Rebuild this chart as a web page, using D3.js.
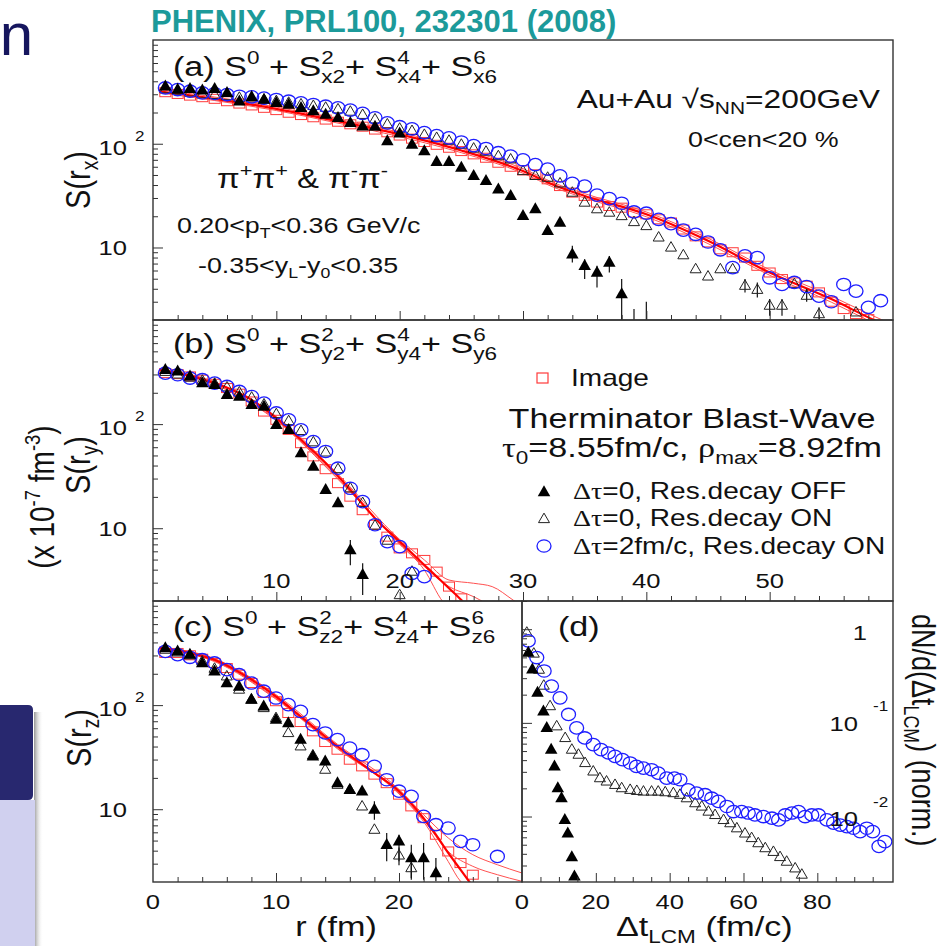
<!DOCTYPE html>
<html>
<head>
<meta charset="utf-8">
<script src="https://cdn.jsdelivr.net/npm/d3@7"></script>
<style>
  body { margin: 0; background: #fff; }
  svg { display: block; }
  text { font-family: "Liberation Sans", Arial, sans-serif; }
</style>
</head>
<body>
<div id="chart"></div>
<script>
// ---- data: [r (fm), S] or [dt (fm/c), dN/d(dt)] ----

// (a) S(r_x)
const circA = [[1,345],[2,333],[3,321],[4,309],[5,305],[6,298],[7,287],[8,283],[9,275],[10,267],[11,257],[12,248],[13,239],[14,230],[15,222],[16,211],[17,196],[18,178],[19,159],[20,146],[21,139],[22,128],[23,120],[24,114],[25,104],[26,96],[27,90],[28,82],[29,76],[30,70],[31,63],[32,57],[33,49],[34,41.5],[35,39],[36,32],[37,29.6],[38,26.7],[39,22],[40,21.4],[41,18.7],[42,17],[43,14.7],[44,13.4],[45,11.3],[46,9.5],[47,6.4],[48,8.3],[49,8.0],[50,5.1],[51,4.4],[52,4.6],[53,4.2],[54,3.4],[55,3.0],[56,4.4],[57,3.8],[58,2.65],[59,3.07]];
const sqA = [[1,314],[2,302],[3,291],[4,281],[5,271],[6,257],[7,244],[8,234],[9,222],[10,211],[11,199],[12,189],[13,180],[14,171],[15,163],[16,154],[17,146],[18,137],[19,129],[20,120],[21,112],[22,104],[23,97.7],[24,91.5],[25,85],[26,79],[27,73.3],[28,65.6],[29,60],[30,55.4],[31,50.7],[32,45.4],[33,39.1],[34,33.8],[35,31.4],[36,27.1],[37,25.1],[38,24.2],[39,21.7],[40,20.9],[41,18.7],[42,17.4],[43,14.9],[44,12.8],[45,11.2],[46,9.6],[47,9.0],[48,8.0],[49,6.66],[50,5.74],[51,4.96],[52,4.6],[53,4.28],[54,3.69],[55,3.0],[56,2.55],[57,2.28],[58,2.04]];
const openA = [[1,335],[2,325],[3,312],[4,300],[5,296],[6,288],[7,278],[8,274],[9,266],[10,258],[11,249],[12,240],[13,232],[14,223],[15,215],[16,204],[17,190],[18,172],[19,154],[20,140],[21,133],[22,122],[23,114],[24,107],[25,98],[26,90],[27,84],[28,76],[29,70.7],[30,54.6],[31,49],[32,47.1],[33,41.5],[34,33.8],[35,27.1],[36,23.4],[37,21.7],[38,20.1],[39,17.6],[40,16.1],[41,12.5],[42,10],[43,8.43],[44,6.18],[45,5.26],[46,6.18],[47,6.18],[48,4.28],[49,3.91],[50,2.75],[51,2.75],[52,4.44],[53,3.43],[54,2.28],[57,2.37]];
const errOpenA = [[48,4.96,3.69],[49,4.6,3.3],[50,3.18,2.2],[51,3.18,2.2],[53,4.0,3.0],[54,2.65,2.0]];
const fillA = [[1,358],[2,333],[3,338],[4,328],[5,338],[6,309],[7,257],[8,283],[9,267],[10,248],[11,239],[12,222],[13,206],[14,191],[15,178],[16,159],[17,147],[18,146],[19,106],[20,126],[21,98],[22,85],[23,67],[24,67],[25,59],[26,49],[27,43.8],[28,36.4],[29,31.4],[30,20.2],[31,23.4],[32,14.5],[33,17.4],[34,8.6],[35,6.65],[36,5.74],[37,7.16],[38,3.56]];
const errFillA = [[34,10.4,7.17],[35,7.7,4.96],[36,6.66,4.12],[37,8.3,5.74],[38,4.96,1.5],[39,2.55,1.5],[40,3.0,1.5]];
const modelA = [[0.5,321],[5,271],[10,217],[15,165],[20,123],[25,86.2],[30,54.6],[32.5,40],[35,31.4],[40,20.9],[45,11.6],[50,5.74],[55,3.18],[58,2.12],[60,1.64]];
const bandA = [
  [[0.5,333],[5,282],[10,226],[15,172],[20,129],[25,90.5],[30,57.5],[32.5,42],[35,33],[40,22],[45,12.3],[50,6.1],[55,3.4],[58,2.3],[60,1.8]],
  [[0.5,310],[5,261],[10,209],[15,158],[20,117],[25,82],[30,52],[32.5,38],[35,30],[40,19.8],[45,10.9],[50,5.4],[55,2.97],[58,1.98],[60,1.5]]
];

// (b) S(r_y)
const circB = [[1,309],[2,298],[3,277],[4,267],[5,248],[6,230],[7,206],[8,184],[9,159],[10,128],[11,110],[12,88],[13,68],[14,54.6],[15,37.7],[16,24.2],[17,18.0],[18,10.8],[19,7.44],[20,6.66],[21,3.69],[22,3.43]];
const openB = [[1,318],[2,300],[3,280],[4,262],[5,245],[6,226],[7,202],[8,180],[9,155],[10,125],[11,107],[12,86],[13,67],[14,53.5],[15,37],[16,24.2],[17,17.5],[18,10.6],[19,7.6],[20,2.28],[21,3.83]];
const fillB = [[1,333],[2,321],[3,287],[4,248],[5,239],[6,191],[7,184],[8,153],[9,147],[10,98.5],[11,88],[12,52.6],[13,39.1],[14,23.4],[15,17.4],[16,6.18],[17,3.56]];
const errFillB = [[16,7.7,4.4],[17,4.6,2.28]];
const sqB = [[1,309],[2,302],[3,287],[4,267],[5,244],[6,222],[7,196],[8,165],[9,132],[10,110],[11,88],[12,65.6],[13,49],[14,36.9],[15,27.1],[16,20.1],[17,14.9],[18,10.8],[19,8.3],[20,6.4],[21,5.74],[22,4.96],[23,3.83],[24,2.75],[25,2.12]];
const modelB = [[0.5,333],[3,291],[5,248],[8,171],[10,114],[12,70.7],[14,42],[16,23.4],[18,12.5],[20,7.44],[22,4.44],[23,3.43],[24,2.65],[25,2.04],[25.5,1.76]];
const bandB = [
  [[0.5,338],[5,255],[10,118],[15,33],[20,7.8],[22,4.96],[24,3.18],[26,2.96],[27.5,2.75],[29.2,2.04],[30,1.76]],
  [[0.5,328],[5,242],[10,110],[15,30],[20,7.1],[22,4.28],[24,2.75],[26,2.2],[27,1.9]],
  [[0.5,325],[5,240],[10,108],[15,29.5],[20,7.0],[22,3.97],[23.5,1.97],[24,1.7]]
];

// (c) S(r_z)
const circC = [[1,328],[2,305],[3,288],[4,273],[5,254],[6,219],[7,196],[8,163],[9,136],[10,117],[11,101],[12,87],[13,64.9],[14,54],[15,46.6],[16,38.7],[17,33.4],[18,25.8],[19,19.2],[20,14.9],[21,13.3],[22,8.54],[23,7.1],[24,6.6],[25,4.91],[26,4.56],[28,3.52]];
const fillC = [[1,354],[2,328],[3,305],[4,254],[5,211],[6,163],[7,151],[8,113],[9,97.3],[10,72.5],[11,67.3],[12,46.6],[13,32.2],[14,28.8],[15,17.8],[16,15.4],[17,14.9],[18,9.9],[19,4.56],[20,4.91],[21,3.4],[22,3.4],[23,2.44]];
const errFillC = [[18,11.9,7.93],[19,5.9,3.16],[20,5.7,3.16],[21,4.56,2.18],[22,4.73,2.1],[23,3.4,2.03]];
const openC = [[1,341],[2,321],[3,301],[4,263],[5,224],[6,189],[7,141],[8,113],[9,93.8],[10,75.2],[11,54],[12,40.2],[13,32.9],[14,24],[15,17.2],[16,15.4],[17,10.65],[18,6.36],[20,3.6],[21,2.72]];
const errOpenC = [[20,4.3,2.9],[21,3.2,2.1]];
const sqC = [[1,317],[2,317],[3,301],[4,279],[5,254],[6,227],[7,196],[8,163],[9,131],[10,109],[11,84],[12,68.8],[13,56],[14,44.2],[15,37.3],[16,29.9],[17,25.8],[18,21.5],[19,17.8],[20,13.8],[21,10.65],[22,8.2],[23,5.69],[24,3.93],[25,3.04],[26,2.35]];
const modelC = [[0.5,354],[3,317],[5,273],[8,176],[10,121],[12,78],[15,40.2],[18,22.3],[20,14.9],[22,8.2],[23,5.69],[24,3.8],[25,2.63],[25.8,1.95]];
const bandC = [
  [[0.5,360],[5,280],[10,126],[15,42],[20,15.5],[22,8.86],[24,5.3],[26,3.66],[28,2.93],[30,2.44]],
  [[0.5,348],[5,266],[10,116],[15,38.5],[20,14.3],[22,7.9],[24,3.93],[26,2.83],[28,2.35],[30,2.03]],
  [[0.5,345],[5,262],[10,114],[15,38],[20,14],[22,7.6],[24,3.15],[25,2.03],[25.5,1.8]]
];

// (d) dN/d(dt_LCM)
const circD = [[1.7,.75],[4,.498],[6,.358],[8,.247],[10.3,.185],[12.6,.123],[14.8,.0884],[17,.069],[19.3,.0586],[21.4,.0518],[23.4,.0477],[25.2,.0439],[27.2,.0405],[29.3,.0373],[31,.0343],[32.9,.0329],[35.1,.0316],[36.9,.0291],[39.2,.0257],[41.3,.0257],[42.8,.0247],[45,.0193],[47.3,.0178],[49.6,.0171],[51.4,.0157],[53.2,.0145],[55.5,.0128],[57.3,.0113],[59.5,.0113],[61.3,.0109],[63.1,.0104],[65.4,.0100],[67.7,.0096],[69.5,.0092],[71.3,.0104],[73.1,.0109],[74.9,.0113],[76.7,.0100],[78.5,.0104],[80.3,.0104],[82.6,.0092],[84.4,.0085],[86.2,.0081],[88,.0078],[89.8,.0075],[91.6,.0069],[93.4,.0075],[95,.0069],[96.7,.0048],[98.3,.0054]];
const openD = [[1.3,.92],[3.2,.55],[4.6,.37],[5.9,.25],[7.6,.151],[9.4,.092],[11.7,.069],[13.5,.0518],[15.3,.0458],[17.1,.0373],[19.3,.0303],[21.1,.0257],[22.9,.0237],[25.2,.0218],[27,.0201],[29.3,.0193],[31.1,.0188],[32.9,.0185],[35.1,.0185],[36.9,.0185],[38.8,.0182],[41,.0178],[42.8,.0171],[44.6,.0157],[46.9,.0139],[48.7,.0128],[50.5,.0113],[52.3,.0104],[54.6,.0092],[56.4,.0085],[58.2,.0075],[60.4,.0066],[62.2,.0059],[64,.0052],[65.9,.0046],[68.1,.0042],[69.9,.0037],[71.7,.0033],[74,.0028],[75.8,.0024]];
const fillD = [[1.7,.563],[2.8,.373],[4.2,.21],[5.8,.133],[6.7,.0884],[7.9,.0518],[8.8,.0343],[9.7,.0201],[10.7,.0157],[11.6,.0092],[12.4,.0066],[13.5,.0037],[14.2,.0023]];

// tick values and labels
const rMajor = [10, 20, 30, 40, 50];
const rMinor = [2,4,6,8,12,14,16,18,22,24,26,28,32,34,36,38,42,44,46,48,52,54,56,58];
const rLabelsB = [10, 20, 30, 40, 50];
const rcMajor = [10, 20];
const rcMinor = [2,4,6,8,12,14,16,18,22,24,26,28];
const rcLabels = [0, 10, 20];
const tMajor = [20, 40, 60, 80];
const tMinor = [5,10,15,25,30,35,45,50,55,65,70,75,85,90,95];
const tLabels = [0, 20, 40, 60, 80];
const sMajor = [10, 100];
const sMinor = [3,4,5,6,7,8,9,20,30,40,50,60,70,80,90,200,300,400,500,600,700,800,900];
const dMajor = [0.01, 0.1, 1];
const dMinor = [0.003,0.004,0.005,0.006,0.007,0.008,0.009,0.02,0.03,0.04,0.05,0.06,0.07,0.08,0.09,0.2,0.3,0.4,0.5,0.6,0.7,0.8,0.9,2];

// ---- drawing ----
const SX = 1.22; // the figure is stretched sideways on the slide
const SERIF = "Liberation Serif, Times New Roman, serif";

const svg = d3.select("#chart").append("svg").attr("width", 944).attr("height", 946);
const defs = svg.append("defs");

// text with super/subscripts, stretched like the figure
function rich(parent, x, y, size, segs, o = {}) {
  const g = parent.append("g")
    .attr("transform", `translate(${x},${y}) scale(${o.sx ?? SX},1)` + (o.rot ? ` rotate(${o.rot})` : ""));
  const t = g.append("text")
    .attr("font-size", size)
    .attr("text-anchor", o.anchor || "start")
    .attr("fill", o.fill || "#111");
  if (o.family) t.attr("font-family", o.family);
  let cur = 0, pend = 0;
  const add = (str, fs, target, fam) => {
    const ts = t.append("tspan").attr("dy", target - cur).attr("dx", pend).text(str);
    if (fs) ts.attr("font-size", fs);
    if (fam) ts.attr("font-family", fam);
    cur = target; pend = 0;
    return ts.node().getComputedTextLength();
  };
  segs.forEach(s => {
    if (typeof s === "string") add(s, null, 0);
    else if (s.t != null) add(s.t, null, 0, s.fam);
    else {
      const fs = size * 0.66;
      let a = 0, b = 0;
      if (s.sup != null) a = add(s.sup, fs, -size * 0.42, s.fam);
      if (s.sub != null) { pend = a ? -a : 0; b = add(s.sub, fs, size * 0.24, s.fam); }
      if (a && b && a > b) pend = a - b;
    }
  });
  return g;
}

const tri = (x, y, w, h) => `M${x},${y - h * 0.62}L${x + w / 2},${y + h * 0.38}L${x - w / 2},${y + h * 0.38}Z`;

// slide decoration on the left
svg.append("text").attr("x", 33).attr("y", 55).attr("text-anchor", "end")
  .attr("font-size", 60).attr("fill", "#16165e").text("n");
const shade = defs.append("linearGradient").attr("id", "shade");
shade.append("stop").attr("offset", "0%").attr("stop-color", "#8a8a8a").attr("stop-opacity", 0.9);
shade.append("stop").attr("offset", "100%").attr("stop-color", "#ffffff").attr("stop-opacity", 0);
svg.append("rect").attr("x", 34).attr("y", 712).attr("width", 9).attr("height", 234).attr("fill", "url(#shade)");
svg.append("path").attr("d", "M0,705H28Q33,705 33,710V795Q33,800 28,800H0Z").attr("fill", "#28286f");
svg.append("rect").attr("x", 0).attr("y", 800).attr("width", 35).attr("height", 146).attr("fill", "#d0d0ef");

// title
svg.append("text").attr("x", 151).attr("y", 32).attr("font-size", 31).attr("font-weight", "bold")
  .attr("fill", "#1c9a9a").text("PHENIX, PRL100, 232301 (2008)");

const panels = [
  { id: "a", box: { x0: 153, x1: 893, y0: 40, y1: 320 },
    x: d3.scaleLinear().domain([0, 60]).range([153, 893]),
    y: d3.scaleLog().domain([2, 1000]).range([320, 40]),
    sq: sqA, bands: bandA, model: modelA, open: openA, errOpen: errOpenA, circ: circA, fill: fillA, errFill: errFillA,
    xMajor: rMajor, xMinor: rMinor, yMajor: sMajor, yMinor: sMinor },
  { id: "b", box: { x0: 153, x1: 893, y0: 320, y1: 601 },
    x: d3.scaleLinear().domain([0, 60]).range([153, 893]),
    y: d3.scaleLog().domain([2, 1000]).range([601, 320]),
    sq: sqB, bands: bandB, model: modelB, open: openB, circ: circB, fill: fillB, errFill: errFillB,
    xMajor: rMajor, xMinor: rMinor, yMajor: sMajor, yMinor: sMinor },
  { id: "c", box: { x0: 153, x1: 522, y0: 601, y1: 882 },
    x: d3.scaleLinear().domain([0, 30]).range([153, 522]),
    y: d3.scaleLog().domain([2, 1000]).range([882, 601]),
    sq: sqC, bands: bandC, model: modelC, open: openC, errOpen: errOpenC, circ: circC, fill: fillC, errFill: errFillC,
    xMajor: rcMajor, xMinor: rcMinor, yMajor: sMajor, yMinor: sMinor },
  { id: "d", box: { x0: 522, x1: 893, y0: 601, y1: 882 },
    x: d3.scaleLinear().domain([0, 100.5]).range([522, 893]),
    y: d3.scaleLog().domain([0.002, 2]).range([882, 601]),
    open: openD, circ: circD, fill: fillD,
    xMajor: tMajor, xMinor: tMinor, yMajor: dMajor, yMinor: dMinor }
];

panels.forEach(p => {
  const b = p.box, x = p.x, y = p.y;
  defs.append("clipPath").attr("id", "clip-" + p.id).append("rect")
    .attr("x", b.x0).attr("y", b.y0).attr("width", b.x1 - b.x0).attr("height", b.y1 - b.y0);
  const g = svg.append("g").attr("clip-path", `url(#clip-${p.id})`);

  g.append("g").selectAll("rect").data(p.sq || []).join("rect")
    .attr("x", d => x(d[0]) - 5.5).attr("y", d => y(d[1]) - 4.5)
    .attr("width", 11).attr("height", 9)
    .attr("fill", "none").attr("stroke", "#ff3a3a").attr("stroke-width", 1);

  const line = d3.line().x(d => x(d[0])).y(d => y(d[1])).curve(d3.curveMonotoneX);
  (p.bands || []).forEach(bd => g.append("path").attr("d", line(bd))
    .attr("fill", "none").attr("stroke", "#ff5050").attr("stroke-width", 1));
  if (p.model) g.append("path").attr("d", line(p.model))
    .attr("fill", "none").attr("stroke", "#ff0000").attr("stroke-width", 2.2);

  [p.errOpen, p.errFill].forEach(err => g.append("g").selectAll("line").data(err || []).join("line")
    .attr("x1", d => x(d[0])).attr("x2", d => x(d[0]))
    .attr("y1", d => y(d[1])).attr("y2", d => y(d[2]))
    .attr("stroke", "#111").attr("stroke-width", 1.2));

  g.append("g").selectAll("path").data(p.open || []).join("path")
    .attr("d", d => tri(x(d[0]), y(d[1]), 11, 9.5))
    .attr("fill", "none").attr("stroke", "#222").attr("stroke-width", 1);

  g.append("g").selectAll("ellipse").data(p.circ || []).join("ellipse")
    .attr("cx", d => x(d[0])).attr("cy", d => y(d[1]))
    .attr("rx", 7).attr("ry", 6.2)
    .attr("fill", "none").attr("stroke", "#1e1eff").attr("stroke-width", 1.3);

  g.append("g").selectAll("path").data(p.fill || []).join("path")
    .attr("d", d => tri(x(d[0]), y(d[1]), 12.5, 11))
    .attr("fill", "#000");

  // inward ticks, ROOT style
  const ax = svg.append("g");
  ax.append("g").attr("transform", `translate(0,${b.y1})`)
    .call(d3.axisBottom(x).tickValues(p.xMinor).tickSize(-5).tickFormat(""));
  ax.append("g").attr("transform", `translate(0,${b.y1})`)
    .call(d3.axisBottom(x).tickValues(p.xMajor).tickSize(-9).tickFormat(""));
  ax.append("g").attr("transform", `translate(${b.x0},0)`)
    .call(d3.axisLeft(y).tickValues(p.yMinor).tickSize(-5).tickFormat(""));
  ax.append("g").attr("transform", `translate(${b.x0},0)`)
    .call(d3.axisLeft(y).tickValues(p.yMajor).tickSize(-10).tickFormat(""));
  ax.selectAll(".domain").remove();
  ax.selectAll("line").attr("stroke", "#333").attr("stroke-width", 1);

  svg.append("rect").attr("x", b.x0).attr("y", b.y0)
    .attr("width", b.x1 - b.x0).attr("height", b.y1 - b.y0)
    .attr("fill", "none").attr("stroke", "#333").attr("stroke-width", 1.4);
});

const [pA, pB, pC, pD] = panels;

// left log labels  "10 2"  and  "10"
[pA, pB, pC].forEach(p => {
  rich(svg, 127, p.y(100) + 11, 21, ["10"], { anchor: "end" });
  rich(svg, 135, p.y(100) - 3, 14, ["2"]);
  rich(svg, 127, p.y(10) + 8, 21, ["10"], { anchor: "end" });
});

// (d) labels drawn inside the panel on the right
rich(svg, 867, pD.y(1) + 11, 21, ["1"], { anchor: "end" });
rich(svg, 858, pD.y(0.1) + 8, 21, ["10"], { anchor: "end" });
rich(svg, 873, pD.y(0.1) - 12, 14, ["-1"]);
rich(svg, 858, pD.y(0.01) + 9, 21, ["10"], { anchor: "end" });
rich(svg, 873, pD.y(0.01) - 10, 14, ["-2"]);

// x labels
rLabelsB.forEach(v => rich(svg, pB.x(v), 588, 21, [String(v)], { anchor: "middle" }));
rcLabels.forEach(v => rich(svg, pC.x(v), 909, 21, [String(v)], { anchor: "middle" }));
tLabels.forEach(v => rich(svg, pD.x(v), 909, 21, [String(v)], { anchor: "middle" }));

// axis titles
rich(svg, 336, 936, 28, ["r (fm)"], { anchor: "middle" });
rich(svg, 616, 936, 28, ["Δt", { sub: "LCM" }, " (fm/c)"]);
rich(svg, 90, 180, 29, ["S(r", { sub: "x" }, ")"], { rot: -90, anchor: "middle" });
rich(svg, 90, 465, 29, ["S(r", { sub: "y" }, ")"], { rot: -90, anchor: "middle" });
rich(svg, 54, 497, 28, ["(x 10", { sup: "-7" }, " fm", { sup: "-3" }, ")"], { rot: -90, anchor: "middle" });
rich(svg, 91, 738, 29, ["S(r", { sub: "z" }, ")"], { rot: -90, anchor: "middle" });
rich(svg, 912, 614, 27, ["dN/d(Δt", { sub: "LCM" }, ")  (norm.)"], { rot: 90 });

// panel titles
rich(svg, 173, 76, 28, ["(a) S", { sup: "0" }, " + S", { sup: "2", sub: "x2" }, "+ S", { sup: "4", sub: "x4" }, "+ S", { sup: "6", sub: "x6" }]);
rich(svg, 173, 353, 28, ["(b) S", { sup: "0" }, " + S", { sup: "2", sub: "y2" }, "+ S", { sup: "4", sub: "y4" }, "+ S", { sup: "6", sub: "y6" }]);
rich(svg, 173, 636, 28, ["(c) S", { sup: "0" }, " + S", { sup: "2", sub: "z2" }, "+ S", { sup: "4", sub: "z4" }, "+ S", { sup: "6", sub: "z6" }]);
rich(svg, 558, 636, 28, ["(d)"]);

// annotations in (a)
rich(svg, 880, 108, 26, ["Au+Au ", { t: "√" }, "s", { sub: "NN" }, "=200GeV"], { anchor: "end" });
rich(svg, 688, 147, 22, ["0<cen<20 %"]);
rich(svg, 217, 188, 27, ["π", { sup: "+" }, "π", { sup: "+" }, " & π", { sup: "-" }, "π", { sup: "-" }], { family: SERIF });
rich(svg, 177, 233, 22, ["0.20<p", { sub: "T" }, "<0.36 GeV/c"]);
rich(svg, 198, 273, 22, ["-0.35<y", { sub: "L" }, "-y", { sub: "0" }, "<0.35"]);

// legend in (b)
svg.append("rect").attr("x", 537).attr("y", 373).attr("width", 11).attr("height", 10)
  .attr("fill", "none").attr("stroke", "#ff3a3a").attr("stroke-width", 1.2);
rich(svg, 571, 386, 23, ["Image"]);
rich(svg, 692, 428, 28, ["Therminator Blast-Wave"], { anchor: "middle" });
rich(svg, 692, 457, 28, [{ t: "τ", fam: SERIF }, { sub: "0" }, "=8.55fm/c, ", { t: "ρ", fam: SERIF }, { sub: "max" }, "=8.92fm"], { anchor: "middle" });
svg.append("path").attr("d", tri(544, 492, 12.5, 11)).attr("fill", "#000");
svg.append("path").attr("d", tri(544, 519, 11, 9.5)).attr("fill", "none").attr("stroke", "#222").attr("stroke-width", 1);
svg.append("ellipse").attr("cx", 544).attr("cy", 546).attr("rx", 7).attr("ry", 6.2)
  .attr("fill", "none").attr("stroke", "#1e1eff").attr("stroke-width", 1.3);
rich(svg, 573, 499, 23, [{ t: "Δτ", fam: SERIF }, "=0, Res.decay OFF"]);
rich(svg, 573, 526, 23, [{ t: "Δτ", fam: SERIF }, "=0, Res.decay ON"]);
rich(svg, 573, 554, 23, [{ t: "Δτ", fam: SERIF }, "=2fm/c, Res.decay ON"]);
</script>
</body>
</html>
